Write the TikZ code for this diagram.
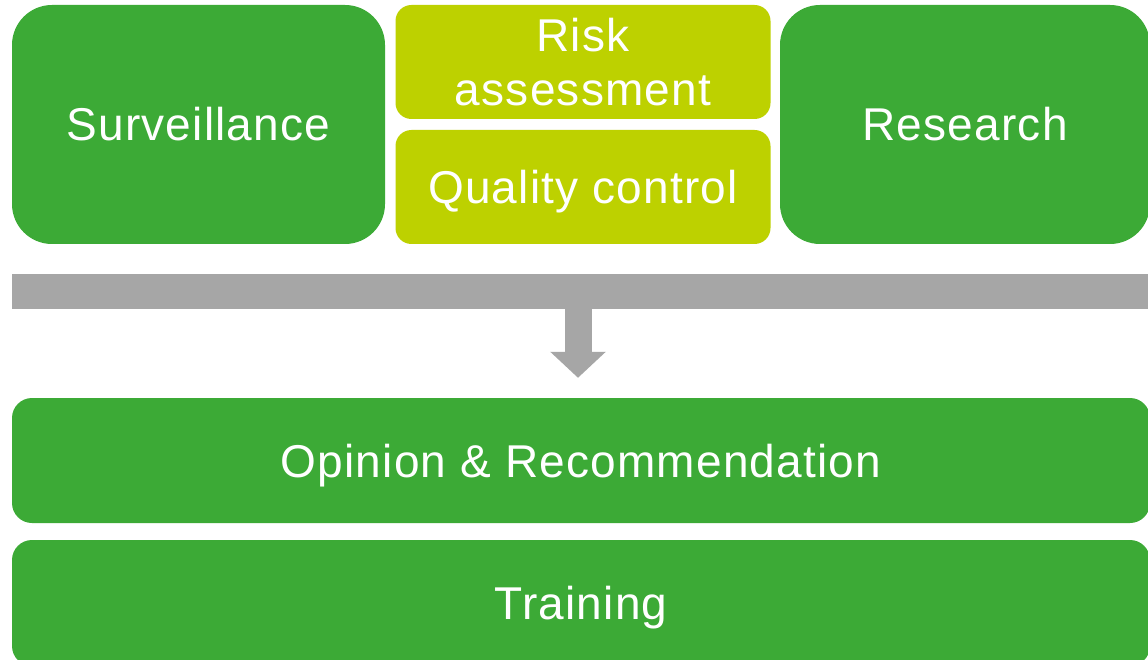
\documentclass[tikz,border=0pt]{standalone}
\usepackage{fontspec}
\setmainfont{Liberation Sans}[LetterSpace=2.6]
\usetikzlibrary{arrows.meta}
\definecolor{boxgreen}{RGB}{60,170,54}
\definecolor{boxlime}{RGB}{189,209,0}
\definecolor{bargray}{RGB}{166,166,166}
\begin{document}
\begin{tikzpicture}[x=1pt,y=-1pt,
  lbl/.style={text=white,font=\fontsize{46}{54}\selectfont,align=center,inner sep=0pt},
  oneline/.style={text height=33pt,text depth=0pt},
  bigbox/.style={lbl,fill=boxgreen,rounded corners=40pt},
  smallbox/.style={lbl,fill=boxlime,rounded corners=16pt},
  wide/.style={lbl,fill=boxgreen,rounded corners=20pt},
  flowarrow/.style={draw=bargray,line width=27pt,-{Triangle[width=54pt,length=26pt]}}]
\useasboundingbox (0,0) rectangle (1148,660);
\clip (0,0) rectangle (1148,660);
\fill[white] (0,0) rectangle (1148,660);
\node[bigbox,oneline,minimum width=373pt,minimum height=239pt] (surv) at (198.5,124.5) {Surveillance};
\node[smallbox,minimum width=375pt,minimum height=114pt] (risk) at (583,62) {Risk\\assessment};
\node[smallbox,oneline,minimum width=375pt,minimum height=114pt] (qc) at (583,187) {Quality control};
\node[bigbox,oneline,minimum width=370pt,minimum height=239pt] (res) at (965,124.5) {Research};
\node[fill=bargray,minimum width=1150pt,minimum height=35pt,inner sep=0pt] (bar) at (587,291.5) {};
\node[wide,oneline,minimum width=1138pt,minimum height=125pt] (op) at (581,460.5) {Opinion \& Recommendation};
\node[wide,oneline,minimum width=1138pt,minimum height=126pt] (tr) at (581,603) {Training};
\coordinate (ax) at (578,0);
\draw[flowarrow,shorten >=20pt] (bar.south -| ax) -- (op.north -| ax);
\end{tikzpicture}
\end{document}
